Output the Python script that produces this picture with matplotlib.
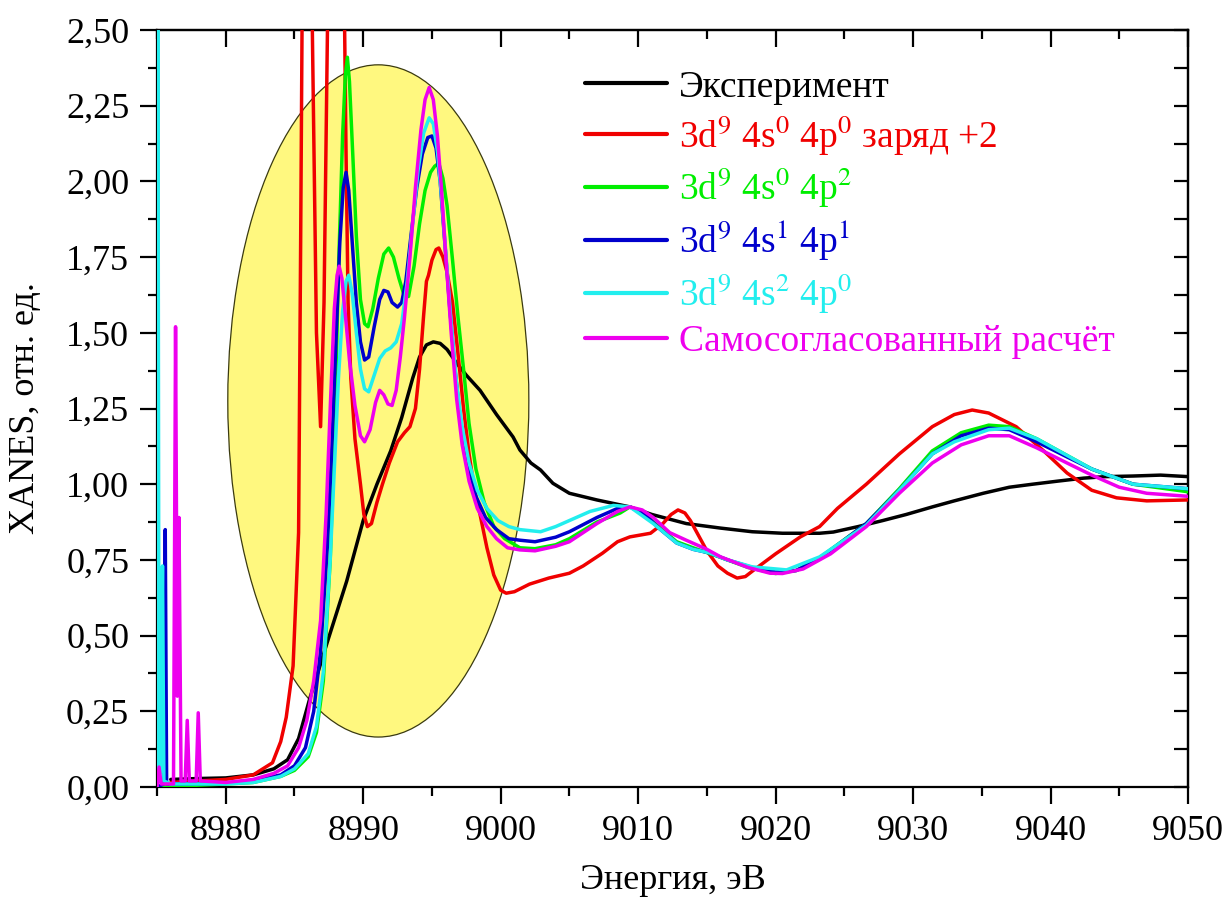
import matplotlib
matplotlib.use("Agg")
import matplotlib.pyplot as plt
from matplotlib.patches import Ellipse
from matplotlib.ticker import MultipleLocator, FuncFormatter

plt.rcParams['font.family'] = ['Liberation Serif', 'DejaVu Serif']
plt.rcParams['mathtext.fontset'] = 'stix'

# ---------------- data ----------------
exp_x = [8976, 8978, 8980, 8982, 8983.5, 8984.5, 8985.3, 8986.1, 8987.4, 8988.8, 8990.0,
         8991.0, 8992.0, 8992.8, 8993.6, 8994.1, 8994.6, 8995.1, 8995.6, 8996.1, 8996.8,
         8997.5, 8998.5, 8999.7, 9000.9, 9001.4, 9002.2, 9002.9, 9003.8, 9005, 9007, 9009.4,
         9011, 9013.5, 9016, 9018.3, 9020.5, 9023.2, 9024.2, 9026, 9027.8, 9029.5, 9031.4,
         9033, 9035.1, 9037, 9038.7, 9040.5, 9042.4, 9044, 9046, 9048, 9050]
exp_y = [0.025, 0.028, 0.03, 0.04, 0.06, 0.09, 0.16, 0.29, 0.48, 0.68, 0.88,
         1.0, 1.11, 1.22, 1.35, 1.42, 1.46, 1.47, 1.465, 1.445, 1.40,
         1.36, 1.31, 1.23, 1.156, 1.113, 1.07, 1.047, 1.003, 0.97, 0.948, 0.925,
         0.90, 0.87, 0.855, 0.843, 0.838, 0.838, 0.842, 0.86, 0.88, 0.90, 0.925,
         0.945, 0.97, 0.99, 1.0, 1.01, 1.02, 1.025, 1.027, 1.03, 1.025]

red_x = [8976, 8978, 8980, 8982, 8983.4, 8984.0, 8984.4, 8984.9, 8985.3, 8985.45, 8985.55,
         8985.9, 8986.3, 8986.6, 8986.9, 8987.15, 8987.4, 8987.8, 8988.3, 8988.6, 8988.75,
         8988.9, 8989.1, 8989.4, 8989.8, 8990.05, 8990.3, 8990.6, 8991.0, 8991.4, 8991.9,
         8992.5, 8993.0, 8993.4, 8993.8, 8994.1, 8994.4, 8994.6, 8994.75, 8995.0, 8995.3,
         8995.5, 8995.8, 8996.1, 8996.5, 8996.9, 8997.3, 8997.7, 8998.1, 8998.5, 8999.0,
         8999.5, 9000.0, 9000.4, 9001.0, 9002.1, 9003.5, 9005, 9006, 9007.4, 9008.5,
         9009.4, 9010.9, 9011.8, 9012.4, 9012.9, 9013.4, 9013.8, 9014.4, 9015.0, 9015.8,
         9016.5, 9017.2, 9017.8, 9018.4, 9020, 9021.8, 9023.2, 9024.5, 9026.6, 9029,
         9031.4, 9033, 9034.3, 9035.5, 9037.5, 9039.5, 9041.2, 9043, 9044.8, 9047, 9050]
red_y = [0.015, 0.02, 0.025, 0.04, 0.08, 0.15, 0.23, 0.40, 0.84, 1.8, 2.5,
         3.2, 2.5, 1.5, 1.19, 1.6, 2.5, 3.3, 3.3, 2.7, 2.1,
         1.6, 1.35, 1.15, 1.0, 0.9, 0.86, 0.87, 0.94, 1.0, 1.07,
         1.14, 1.17, 1.19, 1.25, 1.38, 1.56, 1.67, 1.69, 1.74, 1.775,
         1.78, 1.75, 1.70, 1.60, 1.43, 1.25, 1.10, 0.98, 0.90, 0.79,
         0.70, 0.65, 0.64, 0.645, 0.67, 0.69, 0.706, 0.73, 0.772, 0.81,
         0.826, 0.838, 0.87, 0.90, 0.915, 0.905, 0.88, 0.83, 0.78, 0.73,
         0.706, 0.69, 0.695, 0.716, 0.77, 0.826, 0.86, 0.92, 1.0, 1.1,
         1.19, 1.23, 1.245, 1.235, 1.19, 1.11, 1.037, 0.98, 0.955, 0.945, 0.948]

green_x = [8975, 8980, 8982, 8984, 8985, 8986, 8986.6, 8987.1, 8987.6, 8987.9, 8988.2,
           8988.5, 8988.7, 8988.85, 8989.0, 8989.25, 8989.5, 8989.8, 8990.1, 8990.35, 8990.7,
           8991.1, 8991.5, 8991.85, 8992.2, 8992.6, 8993.0, 8993.3, 8993.7, 8994.1, 8994.5,
           8994.9, 8995.2, 8995.5, 8995.8, 8996.1, 8996.5, 8996.9, 8997.3, 8997.7, 8998.2,
           8998.8, 8999.5, 9000.3, 9001.4, 9002.5, 9004, 9005, 9007, 9008.7, 9009.4, 9010.5,
           9011.5, 9012.8, 9014, 9015.9, 9018, 9020, 9021.5, 9023.2, 9026.6, 9029, 9031.4,
           9033.5, 9035.5, 9037, 9039, 9041.2, 9043, 9046, 9050]
green_y = [0.0, 0.01, 0.015, 0.035, 0.055, 0.10, 0.18, 0.35, 0.75, 1.15, 1.70,
           2.15, 2.35, 2.41, 2.33, 2.08, 1.82, 1.61, 1.53, 1.52, 1.58,
           1.68, 1.76, 1.78, 1.75, 1.68, 1.62, 1.62, 1.72, 1.86, 1.97,
           2.03, 2.05, 2.06, 2.01, 1.92, 1.74, 1.55, 1.38, 1.20, 1.05,
           0.94, 0.86, 0.82, 0.79, 0.787, 0.80, 0.82, 0.875, 0.905, 0.925, 0.90,
           0.86, 0.81, 0.79, 0.76, 0.725, 0.705, 0.715, 0.757, 0.87, 0.985, 1.11,
           1.17, 1.195, 1.19, 1.15, 1.095, 1.05, 1.0, 0.975]

blue_x = [8975, 8975.5, 8975.6, 8975.7, 8976, 8980, 8982, 8984, 8985, 8985.8, 8986.4,
          8986.9, 8987.4, 8987.7, 8988.0, 8988.3, 8988.55, 8988.75, 8988.95, 8989.2, 8989.5,
          8989.8, 8990.1, 8990.4, 8990.8, 8991.2, 8991.5, 8991.8, 8992.1, 8992.5, 8992.8,
          8993.1, 8993.5, 8993.9, 8994.3, 8994.7, 8995.0, 8995.3, 8995.6, 8995.9, 8996.3,
          8996.7, 8997.1, 8997.6, 8998.2, 8998.9, 8999.7, 9000.6, 9001.4, 9002.5, 9004, 9005,
          9007, 9008.5, 9009.4, 9010.5, 9011.5, 9012.8, 9014, 9015.2, 9016.5, 9018.3, 9020,
          9021.5, 9023.2, 9026.6, 9029, 9031.4, 9033.5, 9035.5, 9037, 9039, 9041.2, 9043,
          9046, 9050]
blue_y = [0.0, 0.01, 0.85, 0.01, 0.01, 0.012, 0.02, 0.04, 0.07, 0.13, 0.25,
          0.45, 0.80, 1.10, 1.45, 1.80, 1.98, 2.03, 1.97, 1.80, 1.60,
          1.47, 1.41, 1.42, 1.52, 1.61, 1.64, 1.635, 1.60, 1.585, 1.60,
          1.67, 1.83, 1.98, 2.09, 2.145, 2.15, 2.11, 2.0, 1.82, 1.58,
          1.37, 1.20, 1.07, 0.96, 0.89, 0.85, 0.82, 0.815, 0.81, 0.825, 0.843,
          0.89, 0.92, 0.925, 0.90, 0.855, 0.806, 0.785, 0.773, 0.75, 0.725, 0.71,
          0.715, 0.755, 0.87, 0.98, 1.10, 1.16, 1.185, 1.18, 1.14, 1.09, 1.05,
          1.0, 0.985]

cyan_x = [8975.0, 8975.05, 8975.15, 8975.25, 8975.4, 8975.5, 8976, 8980, 8982, 8984, 8985,
          8986, 8986.6, 8987.1, 8987.6, 8987.9, 8988.2, 8988.5, 8988.75, 8988.95, 8989.2,
          8989.5, 8989.8, 8990.1, 8990.4, 8990.8, 8991.2, 8991.6, 8992.0, 8992.4, 8992.8,
          8993.2, 8993.6, 8994.0, 8994.4, 8994.8, 8995.1, 8995.4, 8995.7, 8996.0, 8996.4,
          8996.8, 8997.2, 8997.7, 8998.3, 8999.0, 8999.8, 9000.6, 9001.4, 9002.9, 9004, 9005,
          9006.5, 9008.2, 9009.4, 9011.1, 9012.8, 9014, 9015.2, 9016.5, 9018.3, 9020.8,
          9023.2, 9026.6, 9029, 9031.4, 9033, 9035.5, 9037, 9039, 9041.2, 9043, 9046, 9050]
cyan_y = [0.0, 3.0, 0.02, 0.05, 0.73, 0.02, 0.01, 0.01, 0.015, 0.035, 0.06,
          0.11, 0.20, 0.38, 0.75, 1.05, 1.35, 1.57, 1.67, 1.69, 1.63,
          1.50, 1.38, 1.315, 1.305, 1.36, 1.415, 1.44, 1.45, 1.47, 1.53,
          1.67, 1.86, 2.04, 2.16, 2.21, 2.19, 2.10, 1.95, 1.77, 1.53,
          1.33, 1.19, 1.07, 0.98, 0.92, 0.88, 0.86, 0.85, 0.843, 0.86, 0.88,
          0.91, 0.93, 0.925, 0.87, 0.806, 0.785, 0.773, 0.75, 0.727, 0.717,
          0.76, 0.865, 0.98, 1.10, 1.14, 1.18, 1.185, 1.15, 1.095, 1.05, 1.0, 0.985]

mag_x = [8975.0, 8975.15, 8975.3, 8976.2, 8976.35, 8976.48, 8976.6, 8976.75, 8977.05, 8977.2,
         8977.35, 8977.85, 8978.0, 8978.15, 8980, 8982, 8983.5, 8984.5, 8985.3, 8985.9,
         8986.4, 8986.9, 8987.3, 8987.6, 8987.9, 8988.1, 8988.25, 8988.45, 8988.7, 8989.0,
         8989.4, 8989.8, 8990.1, 8990.5, 8990.9, 8991.2, 8991.5, 8991.8, 8992.1, 8992.4,
         8992.7, 8993.0, 8993.4, 8993.8, 8994.2, 8994.5, 8994.8, 8995.1, 8995.4, 8995.7,
         8996.0, 8996.4, 8996.8, 8997.2, 8997.7, 8998.3, 8999.0, 8999.7, 9000.5, 9001.4,
         9002.5, 9004, 9005, 9007, 9008.5, 9009.4, 9010.3, 9011.1, 9012.3, 9013.5, 9015,
         9016, 9018, 9019.6, 9020.5, 9022, 9024, 9026.6, 9029, 9031.4, 9033.5, 9035.5,
         9037, 9039, 9041.2, 9043, 9045, 9047, 9050]
mag_y = [0.0, 0.066, 0.01, 0.01, 1.52, 0.30, 0.89, 0.02, 0.02, 0.22,
         0.02, 0.02, 0.245, 0.02, 0.015, 0.025, 0.045, 0.07, 0.13, 0.22,
         0.35, 0.55, 0.90, 1.25, 1.58, 1.69, 1.72, 1.68, 1.56, 1.41,
         1.26, 1.16, 1.14, 1.18, 1.27, 1.31, 1.295, 1.265, 1.26, 1.31,
         1.42, 1.55, 1.75, 1.98, 2.17, 2.27, 2.31, 2.27, 2.15, 1.97,
         1.76, 1.50, 1.28, 1.13, 1.01, 0.92, 0.86, 0.82, 0.79, 0.783,
         0.78, 0.795, 0.81, 0.87, 0.91, 0.925, 0.915, 0.89, 0.84, 0.815, 0.785,
         0.76, 0.725, 0.706, 0.705, 0.72, 0.77, 0.86, 0.97, 1.07, 1.13, 1.16,
         1.16, 1.12, 1.07, 1.03, 0.99, 0.97, 0.96]

labels = ["Эксперимент",
          r"3d$^{\mathrm{9}}$ 4s$^{\mathrm{0}}$ 4p$^{\mathrm{0}}$ заряд +2",
          r"3d$^{\mathrm{9}}$ 4s$^{\mathrm{0}}$ 4p$^{\mathrm{2}}$",
          r"3d$^{\mathrm{9}}$ 4s$^{\mathrm{1}}$ 4p$^{\mathrm{1}}$",
          r"3d$^{\mathrm{9}}$ 4s$^{\mathrm{2}}$ 4p$^{\mathrm{0}}$",
          "Самосогласованный расчёт"]
colors = ["#000000", "#F00000", "#00EE00", "#0000CC", "#22EEEE", "#EE00EE"]

ellipse_center = (8991.1, 1.275)
ellipse_size = (21.9, 2.22)

# ---------------- figure ----------------
fig = plt.figure(figsize=(12.27, 9.09), dpi=100)
ax = fig.add_axes([157/1227, 1 - 787/909, (1188-157)/1227, (787-30)/909])

ax.add_patch(Ellipse(ellipse_center, ellipse_size[0], ellipse_size[1],
                     facecolor="#FFF87F", edgecolor="#3a3a10", linewidth=0.9, zorder=1))

series = [(exp_x, exp_y), (red_x, red_y), (green_x, green_y),
          (blue_x, blue_y), (cyan_x, cyan_y), (mag_x, mag_y)]
for (xs, ys), lab, col in zip(series, labels, colors):
    ax.plot(xs, ys, color=col, lw=2.5, label=lab, zorder=3,
            solid_joinstyle='round', solid_capstyle='round')

ax.set_xlim(8975, 9050)
ax.set_ylim(0, 2.5)
ax.xaxis.set_major_locator(MultipleLocator(10))
ax.xaxis.set_minor_locator(MultipleLocator(5))
ax.yaxis.set_major_locator(MultipleLocator(0.25))
ax.yaxis.set_minor_locator(MultipleLocator(0.125))
ax.set_xticks([8980, 8990, 9000, 9010, 9020, 9030, 9040, 9050])
ax.yaxis.set_major_formatter(FuncFormatter(lambda v, p: f"{v:.2f}".replace('.', ',')))

for s in ax.spines.values():
    s.set_linewidth(1.6)

ax.tick_params(which='both', direction='out', width=1.6, labelsize=26, pad=8,
               top=False, right=False)
ax.tick_params(which='major', length=12)
ax.tick_params(which='minor', length=6.5)

secx = ax.secondary_xaxis('top')
secx.xaxis.set_major_locator(MultipleLocator(10))
secx.xaxis.set_minor_locator(MultipleLocator(5))
secx.tick_params(which='both', direction='in', width=1.6, labeltop=False)
secx.tick_params(which='major', length=12)
secx.tick_params(which='minor', length=6.5)
secx.spines['top'].set_linewidth(1.6)

secy = ax.secondary_yaxis('right')
secy.yaxis.set_major_locator(MultipleLocator(0.25))
secy.yaxis.set_minor_locator(MultipleLocator(0.125))
secy.tick_params(which='both', direction='in', width=1.6, labelright=False)
secy.tick_params(which='major', length=10)
secy.tick_params(which='minor', length=10)
secy.spines['right'].set_linewidth(1.6)

ax.set_xlabel("Энергия, эВ", fontsize=26, labelpad=12)
ax.set_ylabel("XANES, отн. ед.", fontsize=26, labelpad=17)

leg = ax.legend(loc='upper left', bbox_to_anchor=(0.415, 0.947), frameon=False,
                fontsize=27, handlelength=2.2, handletextpad=0.3, labelspacing=0.225,
                borderpad=0, borderaxespad=0, labelcolor='linecolor')
for line in leg.get_lines():
    line.set_linewidth(3)

fig.savefig("out.png", dpi=100)
